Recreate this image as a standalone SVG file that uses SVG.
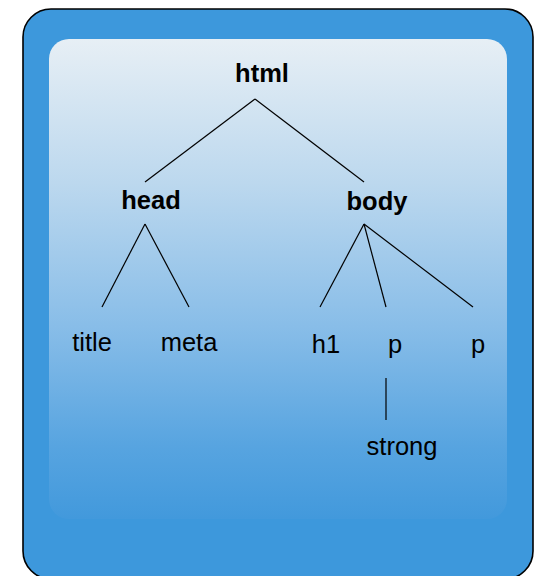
<svg xmlns="http://www.w3.org/2000/svg" width="538" height="576" viewBox="0 0 538 576">
<defs>
<linearGradient id="inner" x1="0" y1="0" x2="0" y2="1">
<stop offset="0" stop-color="#e7eff5"/>
<stop offset="0.3" stop-color="#bcd8ee"/>
<stop offset="0.6" stop-color="#88bde8"/>
<stop offset="0.85" stop-color="#57a4e0"/>
<stop offset="1" stop-color="#4299dc"/>
</linearGradient>
<style>
text{font-family:"Liberation Sans",Arial,sans-serif;font-size:25.5px;fill:#000}
.b{font-weight:bold}
.edge{stroke:#000;stroke-width:1.2;fill:none}
</style>
</defs>
<rect x="23" y="9" width="510" height="570" rx="28" fill="#3d98dc" stroke="#000" stroke-width="1.6"/>
<rect x="49" y="39" width="458" height="480" rx="20" fill="url(#inner)"/>
<g id="connectors">
<line class="edge" x1="255" y1="99" x2="145" y2="182"/>
<line class="edge" x1="255" y1="99" x2="364" y2="182"/>
<line class="edge" x1="145" y1="224" x2="102" y2="307"/>
<line class="edge" x1="145" y1="224" x2="189" y2="307"/>
<line class="edge" x1="364" y1="224" x2="320" y2="307"/>
<line class="edge" x1="364" y1="224" x2="386" y2="307"/>
<line class="edge" x1="364" y1="224" x2="473" y2="307"/>
<line class="edge" x1="386" y1="378" x2="386" y2="420"/>
</g>
<g id="html"><text class="b" x="262" y="82" text-anchor="middle">html</text></g>
<g id="head"><text class="b" x="151" y="209" text-anchor="middle">head</text></g>
<g id="body"><text class="b" x="377" y="210" text-anchor="middle">body</text></g>
<g id="title"><text x="92" y="351" text-anchor="middle">title</text></g>
<g id="meta"><text x="189" y="351" text-anchor="middle">meta</text></g>
<g id="h1"><text x="326" y="353" text-anchor="middle">h1</text></g>
<g id="p1"><text x="395" y="353" text-anchor="middle">p</text></g>
<g id="p2"><text x="478" y="353" text-anchor="middle">p</text></g>
<g id="strong"><text x="402" y="455" text-anchor="middle">strong</text></g>
</svg>
